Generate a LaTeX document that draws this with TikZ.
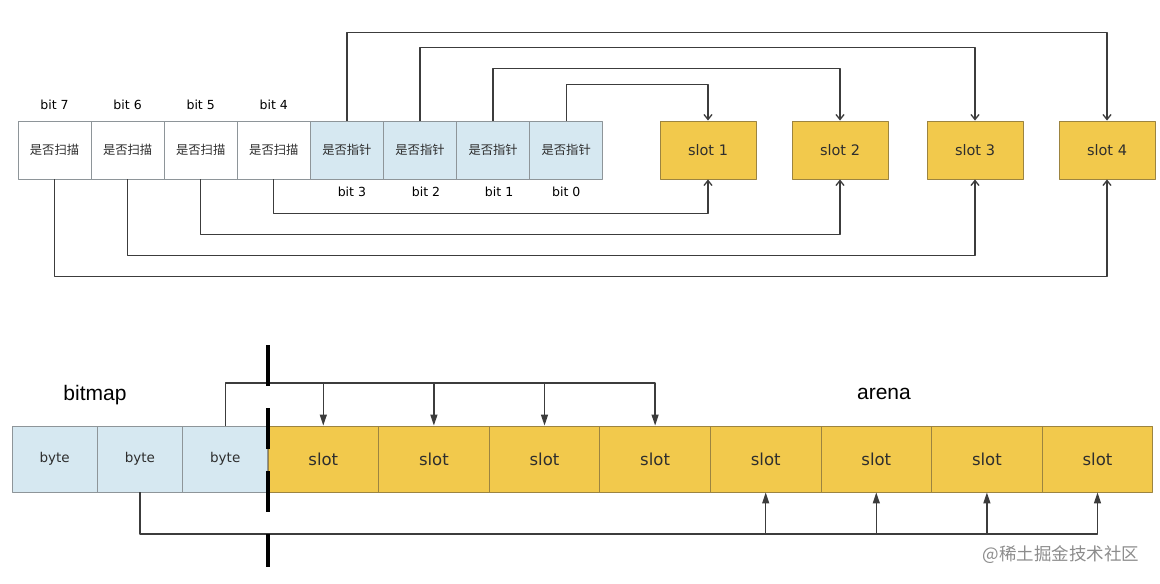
\documentclass[tikz,border=0pt]{standalone}
\usepackage{fontspec}
\setmainfont{DejaVu Sans}
\newfontfamily\cjk{Noto Sans CJK SC}
\newfontfamily\headfont{Liberation Sans}
\usetikzlibrary{arrows.meta,positioning}

\definecolor{cellline}{HTML}{8E9599}
\definecolor{ptrblue}{HTML}{D6E8F1}
\definecolor{slotyellow}{HTML}{F2C94C}
\definecolor{slotline}{HTML}{9C8440}
\definecolor{linkgray}{HTML}{3C3C3C}
\definecolor{labelgray}{HTML}{2E2E2E}
\definecolor{markgray}{HTML}{8C8C8C}

\begin{document}
\begin{tikzpicture}[
  x=1pt,
  y=-1pt,
  line join=round,
  cell/.style={draw=cellline,line width=0.9pt,minimum height=58pt,inner sep=0pt,text=labelgray},
  scancell/.style={cell,fill=white,minimum width=73.1pt,font=\cjk\fontsize{12.3}{12.3}\selectfont},
  ptrcell/.style={cell,fill=ptrblue,minimum width=73.1pt,font=\cjk\fontsize{12.3}{12.3}\selectfont},
  slotbox/.style={draw=slotline,fill=slotyellow,line width=0.9pt,minimum width=96pt,minimum height=58pt,
    inner sep=0pt,text=labelgray,font=\fontsize{14.5}{14.5}\selectfont},
  bytecell/.style={cell,fill=ptrblue,minimum width=85.3pt,minimum height=66pt,font=\fontsize{13.5}{13.5}\selectfont},
  arenacell/.style={slotbox,minimum width=110.6pt,minimum height=66pt,font=\fontsize{16.5}{16.5}\selectfont},
  bitlabel/.style={font=\fontsize{12.5}{12.5}\selectfont,text=black},
  headlabel/.style={font=\headfont\fontsize{21}{21}\selectfont,text=black},
  link/.style={draw=linkgray,line width=1.35pt},
  openarrow/.style={link,-{Straight Barb[length=5pt,width=8pt]}},
  fillarrow/.style={link,-{Triangle[length=11pt,width=7pt]}},
  sepline/.style={line width=3.5pt,dash pattern=on 41pt off 22pt}
]
  % Match the artwork frame.
  \useasboundingbox (0,0) rectangle (1160,584);

  % Upper half: one bitmap byte, scan bits on the left, pointer bits on the right.
  \foreach \b [count=\i from 0] in {7,6,5,4} {
    \node[scancell] (s\b) at ({54.5+73.1*\i},150) {是否扫描};
    \node[bitlabel,above=7pt of s\b] (l\b) {bit \b};
  }
  \foreach \b/\dx [count=\i from 4] in {3/5,2/6,1/6,0/0} {
    \node[ptrcell] (p\b) at ({54.5+73.1*\i},150) {是否指针};
    \node[bitlabel,below=4pt of p\b,xshift=\dx pt] (l\b) {bit \b};
  }

  \node[slotbox] (slot1) at (708,150) {slot 1};
  \node[slotbox] (slot2) at (840,150) {slot 2};
  \node[slotbox] (slot3) at (975,150) {slot 3};
  \node[slotbox] (slot4) at (1107,150) {slot 4};

  % Pointer bits go over the top, scan bits under the bottom.
  \foreach \b/\s/\h in {3/4/88,2/3/73,1/2/52,0/1/36} {
    \draw[openarrow] (p\b.north) -- ++(0,-\h) -| (slot\s.north);
  }
  \foreach \b/\s/\h in {4/1/34,5/2/55,6/3/76,7/4/97} {
    \draw[openarrow] (s\b.south) -- ++(0,\h) -| (slot\s.south);
  }

  % Lower half: bitmap bytes followed by the arena slots.
  \node[headlabel] (bitmaplbl) at (95,395) {bitmap};
  \node[headlabel] (arenalbl) at (884,394) {arena};
  \foreach \i in {1,2,3} {
    \node[bytecell] (byte\i) at ({12+85.3*(\i-0.5)},459) {byte};
  }
  \foreach \i in {1,...,8} {
    \node[arenacell] (a\i) at ({268+110.6*(\i-0.5)},459) {slot};
  }

  \coordinate (topbus) at (0,383);
  \coordinate (botbus) at (0,534);
  \draw[fillarrow] (byte3.north) |- (a4.north |- topbus) -- (a4.north);
  \foreach \i in {1,2,3} {
    \draw[fillarrow] (a\i.north |- topbus) -- (a\i.north);
  }
  \draw[fillarrow] (byte2.south) |- (a8.south |- botbus) -- (a8.south);
  \foreach \i in {5,6,7} {
    \draw[fillarrow] (a\i.south |- botbus) -- (a\i.south);
  }

  % Thick dashed border between bitmap and arena.
  \draw[sepline] (268,345) -- (268,567);

  \node[font=\cjk\fontsize{17.5}{17.5}\selectfont,text=markgray] (mark) at (1061,555) {@稀土掘金技术社区};
\end{tikzpicture}
\end{document}
